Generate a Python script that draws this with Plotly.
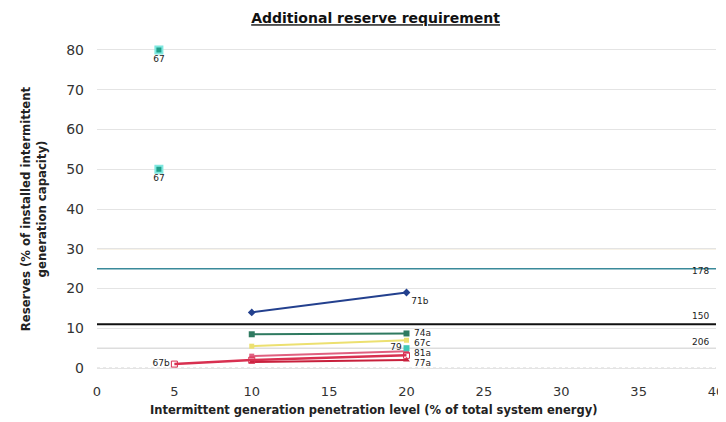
import plotly.graph_objects as go

# ---- data ----
s67_x = [4, 4]
s67_y = [80, 50]
s67_lbl = ["67", "67"]

s71b_x = [10, 20]
s71b_y = [14, 19]

s74a_x = [10, 20]
s74a_y = [8.5, 8.7]

s67c_x = [10, 20]
s67c_y = [5.5, 7]

s79_x = [20]
s79_y = [5]

s81a_x = [10, 20]
s81a_y = [3, 4.2]

s77a_x = [10, 20]
s77a_y = [1.5, 2]

s67b_x = [5, 10, 20]
s67b_y = [1, 2, 3.2]

# end-of-series label texts and their vertical label positions
end_lbl = ["74a", "67c", "81a", "77a"]
end_lbl_y = [8.8, 6.3, 3.8, 1.3]

hlines_val = [30, 25, 11, 5]
hlines_lbl = ["", "178", "150", "206"]
hlines_lbl_y = [None, 24.4, 13.1, 6.5]
hlines_col = ["#f0e6d0", "#3a8a9a", "#111111", "#dddddd"]
hlines_w = [1.5, 1.5, 2, 1.5]

x_ticks = [0, 5, 10, 15, 20, 25, 30, 35, 40]
y_ticks = [0, 10, 20, 30, 40, 50, 60, 70, 80]

FONT = "DejaVu Sans, Arial, sans-serif"

fig = go.Figure()

# horizontal reference lines
for v, c, w in zip(hlines_val, hlines_col, hlines_w):
    fig.add_shape(type="line", xref="x", yref="y", x0=0, x1=40, y0=v, y1=v,
                  line=dict(color=c, width=w), layer="below")
# dotted baseline at zero
fig.add_shape(type="line", xref="x", yref="y", x0=0, x1=40, y0=0, y1=0,
              line=dict(color="#cfcfcf", width=1, dash="dot"), layer="below")

lbl_font = dict(size=9, color="#222", family=FONT)

for lbl, ly in zip(hlines_lbl, hlines_lbl_y):
    if lbl:
        fig.add_annotation(x=39.0, y=ly, text=lbl, showarrow=False,
                           font=lbl_font, xref="x", yref="y")

fig.add_trace(go.Scatter(x=s67_x, y=s67_y, mode="markers+text", text=s67_lbl,
                         textposition="bottom center", textfont=lbl_font, cliponaxis=False,
                         marker=dict(symbol="square", size=7, color="#1f9e89",
                                     line=dict(color="#7fe8e0", width=2))))

def line_series(xs, ys, color, label="", pos="middle right", symbol="square", size=6, width=2):
    txt = [""] * (len(xs) - 1) + [label]
    fig.add_trace(go.Scatter(x=xs, y=ys, mode="lines+markers+text", text=txt,
                             textposition=pos, textfont=lbl_font, cliponaxis=False,
                             line=dict(color=color, width=width),
                             marker=dict(symbol=symbol, size=size, color=color)))

line_series(s71b_x, s71b_y, "#23408e", "71b", pos="bottom right", symbol="diamond")
line_series(s74a_x, s74a_y, "#2f7a60")
line_series(s67c_x, s67c_y, "#ece070", size=5)
line_series(s81a_x, s81a_y, "#e06080", size=5)
line_series(s77a_x, s77a_y, "#c8203c", symbol="triangle-up", size=6)

fig.add_trace(go.Scatter(x=s67b_x, y=s67b_y, mode="lines+markers+text",
                         text=["67b", "", ""], textposition="middle left", textfont=lbl_font,
                         cliponaxis=False,
                         line=dict(color="#d83050", width=2.5),
                         marker=dict(symbol="square-open", size=6, color="#d83050")))

fig.add_trace(go.Scatter(x=s79_x, y=s79_y, mode="markers+text", text=["79"],
                         textposition="middle left", textfont=lbl_font, cliponaxis=False,
                         marker=dict(symbol="square", size=6, color="#40c8b8")))

for lbl, ly in zip(end_lbl, end_lbl_y):
    fig.add_annotation(x=20, y=ly, text=lbl, showarrow=False, xanchor="left", xshift=5,
                       font=lbl_font, xref="x", yref="y")

# x-axis title (offset left of plot centre, as in the reference)
fig.add_annotation(x=0.447, y=0, xref="paper", yref="paper", yanchor="middle", yshift=-30,
                   showarrow=False,
                   text="<b>Intermittent generation penetration level (% of total system energy)</b>",
                   font=dict(size=11.5, color="#222", family=FONT))

fig.update_layout(
    width=718, height=414,
    margin=dict(l=89, r=10, t=30, b=42, autoexpand=False),
    paper_bgcolor="white", plot_bgcolor="white",
    showlegend=False,
    font=dict(family=FONT, color="#222"),
    title=dict(text="<b><u>Additional reserve requirement</u></b>", x=0.512, xanchor="center",
               y=0.975, yanchor="middle", font=dict(size=14, color="#111", family=FONT)),
    xaxis=dict(range=[0, 40], tickvals=x_ticks, showgrid=False, zeroline=False,
               showline=False, ticks="", tickfont=dict(size=13, color="#333", family=FONT),
               automargin=False, ticklabelstandoff=2, ticklabeloverflow="allow"),
    yaxis=dict(range=[-3, 83], tickvals=y_ticks, showgrid=True, gridcolor="#e4e4e4",
               zeroline=False, showline=False, ticks="",
               tickfont=dict(size=14, color="#333", family=FONT),
               automargin=False, ticklabelstandoff=12,
               title=dict(text="<b>Reserves (% of installed intermittent<br>generation capacity)</b>",
                          font=dict(size=11.7, color="#222", family=FONT), standoff=17)),
)

fig.write_html("out.html")
